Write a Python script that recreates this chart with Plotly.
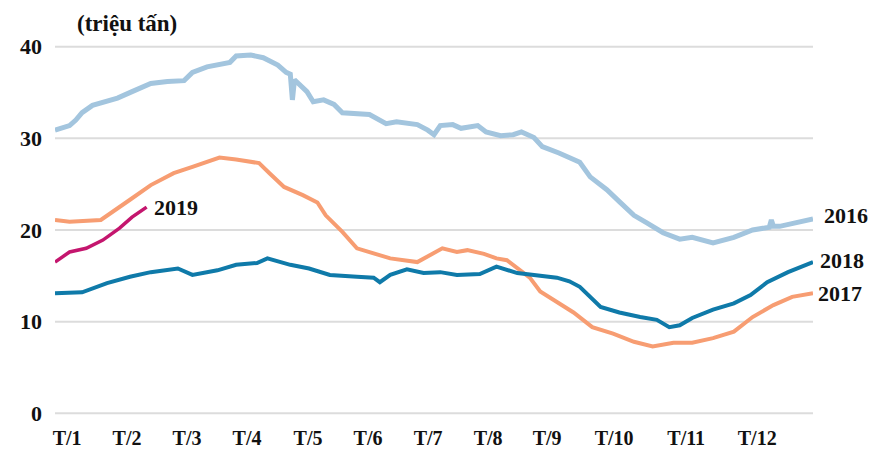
import plotly.graph_objects as go

# day of year (x) and stock values (million tonnes)
days_2016 = [1, 8, 11, 14, 19, 24, 31, 38, 47, 55, 63, 67, 74, 85, 88, 95, 101, 108, 112, 114, 115, 116, 117, 122,
             125, 130, 135, 139, 152, 160, 165, 175, 180, 183, 186, 192, 196, 204, 208, 215, 221, 225, 231, 235,
             243, 253, 258, 266, 272, 279, 285, 293, 301, 307, 317, 327, 336, 344, 345, 346, 349, 357, 365]
vals_2016 = [30.9, 31.4, 32.0, 32.8, 33.6, 33.9, 34.4, 35.1, 36.0, 36.2, 36.3, 37.2, 37.8, 38.3, 39.0, 39.1, 38.8,
             38.0, 37.2, 37.0, 34.2, 36.4, 36.2, 35.1, 34.0, 34.2, 33.7, 32.8, 32.6, 31.6, 31.8, 31.5, 30.9, 30.4,
             31.4, 31.5, 31.1, 31.4, 30.7, 30.3, 30.4, 30.7, 30.1, 29.1, 28.4, 27.4, 25.8, 24.4, 23.1, 21.6, 20.8,
             19.7, 19.0, 19.2, 18.6, 19.2, 20.0, 20.3, 21.1, 20.4, 20.4, 20.8, 21.2]

days_2017 = [1, 8, 23, 29, 37, 47, 58, 67, 80, 88, 99, 104, 111, 120, 127, 131, 139, 146, 154, 162, 175, 181, 187,
             194, 199, 207, 213, 218, 223, 229, 234, 244, 250, 259, 269, 279, 288, 298, 307, 317, 327, 336, 346,
             355, 365]
vals_2017 = [21.1, 20.9, 21.1, 22.0, 23.3, 24.9, 26.2, 26.9, 27.9, 27.7, 27.3, 26.2, 24.7, 23.8, 23.0, 21.6, 19.8,
             18.0, 17.5, 16.9, 16.5, 17.3, 18.0, 17.6, 17.8, 17.4, 16.9, 16.7, 15.8, 14.8, 13.3, 11.9, 11.0, 9.4,
             8.7, 7.8, 7.3, 7.7, 7.7, 8.2, 8.9, 10.5, 11.8, 12.7, 13.1]

days_2018 = [1, 14, 26, 37, 47, 60, 67, 79, 88, 98, 103, 111, 114, 123, 133, 146, 154, 157, 162, 170, 178, 186,
             194, 205, 213, 223, 232, 242, 248, 253, 263, 272, 282, 290, 296, 301, 307, 317, 327, 335, 343, 353, 365]
vals_2018 = [13.1, 13.2, 14.2, 14.9, 15.4, 15.8, 15.1, 15.6, 16.2, 16.4, 16.9, 16.4, 16.2, 15.8, 15.1, 14.9, 14.8,
             14.3, 15.1, 15.7, 15.3, 15.4, 15.1, 15.2, 16.0, 15.3, 15.1, 14.8, 14.4, 13.8, 11.6, 11.0, 10.5, 10.2,
             9.4, 9.6, 10.4, 11.3, 12.0, 12.9, 14.3, 15.4, 16.5]

days_2019 = [1, 8, 16, 24, 32, 38, 45]
vals_2019 = [16.5, 17.6, 18.0, 18.9, 20.2, 21.4, 22.5]

tick_days = [6.8, 35.6, 64.4, 93.2, 122.5, 151.3, 180.2, 209, 237.3, 269.5, 304.1, 338.2]
tick_text = ["T/1", "T/2", "T/3", "T/4", "T/5", "T/6", "T/7", "T/8", "T/9", "T/10", "T/11", "T/12"]
y_ticks = [0, 10, 20, 30, 40]

series = [
    ("2016", days_2016, vals_2016, "#a3c5de", 5, 9, 4),
    ("2017", days_2017, vals_2017, "#f79d72", 4, 3, 0),
    ("2018", days_2018, vals_2018, "#0f7aa9", 4, 5, 2),
    ("2019", days_2019, vals_2019, "#c4166e", 3.5, 5, 0),
]

FONT = "Liberation Serif"
fig = go.Figure()

# horizontal gridlines at the y tick values
for v in y_ticks:
    fig.add_hline(y=v, line=dict(color="#dcdcdc", width=2), layer="below")

for name, xs, ys, color, width, xs_shift, ys_shift in series:
    fig.add_trace(go.Scatter(x=xs, y=ys, mode="lines", name=name,
                             line=dict(color=color, width=width), showlegend=False))
    fig.add_annotation(x=xs[-1], y=ys[-1], text="<b>%s</b>" % name, showarrow=False,
                       xanchor="left", yanchor="middle", xshift=xs_shift, yshift=ys_shift,
                       font=dict(family=FONT, size=22, color="#111111"))

fig.add_annotation(x=0.095, y=1.055, xref="paper", yref="paper", text="<b>(triệu tấn)</b>",
                   showarrow=False, xanchor="center", yanchor="middle",
                   font=dict(family=FONT, size=23, color="#111111"))

fig.update_layout(
    width=869, height=450,
    margin=dict(l=55, r=56, t=44, b=34),
    paper_bgcolor="white", plot_bgcolor="white",
    font=dict(family=FONT, size=20, color="#111111"),
    xaxis=dict(range=[1, 365], tickvals=tick_days, ticktext=["<b>%s</b>" % t for t in tick_text],
               showgrid=False, zeroline=False, showline=False, ticks="", ticklabelstandoff=8,
               automargin=False, fixedrange=True),
    yaxis=dict(range=[-0.3, 40.3], tickvals=y_ticks, ticktext=["<b>%d</b>" % v for v in y_ticks],
               showgrid=False, zeroline=False, showline=False,
               tickfont=dict(size=22), ticks="", ticklabelstandoff=12, automargin=False, fixedrange=True),
)

fig.write_html("out.html", config={"displayModeBar": False},
               post_script="document.body.style.margin='0';document.body.style.overflow='hidden';")
